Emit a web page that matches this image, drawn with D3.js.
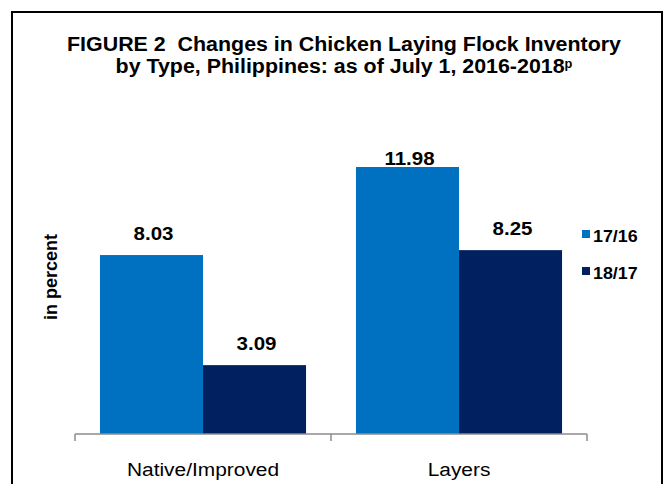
<!DOCTYPE html>
<html><head><meta charset="utf-8">
<script src="https://cdn.jsdelivr.net/npm/d3@7"></script>
<style>body{margin:0;background:#fff}svg{display:block}text{white-space:pre}</style>
</head><body>
<script>
const categories = ["Native/Improved", "Layers"];
const seriesNames = ["17/16", "18/17"];
const values1716 = [8.03, 11.98];
const values1817 = [3.09, 8.25];
const colors = ["#0070C0", "#002060"];

(function () {
const W = 670, H = 484;
const svg = d3.select("body").append("svg").attr("width", W).attr("height", H);
svg.append("rect").attr("width", W).attr("height", H).attr("fill", "#fff");
// frame
svg.append("rect").attr("x", 12).attr("y", 12).attr("width", 650).attr("height", 490)
  .attr("fill", "none").attr("stroke", "#000").attr("stroke-width", 2);

const font = "'Liberation Sans', Arial, sans-serif";
const SX = 1.08;
function stxt(parent, x, y, str, size, bold, anchor, sx) {
  return parent.append("text").attr("transform", `translate(${x},${y}) scale(${sx || SX},1)`)
    .attr("text-anchor", anchor || "middle").attr("font-family", font)
    .attr("font-weight", bold ? "bold" : "normal").attr("font-size", size)
    .attr("fill", "#000").text(str);
}

const title = svg.append("text").attr("transform", `translate(344,0) scale(1.07,1)`)
  .attr("text-anchor", "middle").attr("font-family", font)
  .attr("font-weight", "bold").attr("font-size", 20).attr("fill", "#000");
title.append("tspan").attr("x", 0).attr("y", 51).text("FIGURE 2  Changes in Chicken Laying Flock Inventory");
const l2 = title.append("tspan").attr("x", 0).attr("y", 73).text("by Type, Philippines: as of July 1, 2016-2018");
l2.append("tspan").attr("font-size", 12).attr("dy", -5).text("p");

const pl = 75, pr = 587, pt = 122, pb = 434;
const labelMinY = 165;
const x0 = d3.scaleBand().domain(categories).range([pl, pr]).paddingInner(0.195).paddingOuter(0.0975);
const x1 = d3.scaleBand().domain(seriesNames).range([0, x0.bandwidth()]);
const y = d3.scaleLinear().domain([0, 14]).range([pb, pt]);

const data = categories.map((c, i) => ({cat: c, vals: [values1716[i], values1817[i]]}));
const g = svg.append("g");
data.forEach(d => {
  d.vals.forEach((v, j) => {
    const bx = x0(d.cat) + x1(seriesNames[j]);
    g.append("rect").attr("x", bx).attr("y", y(v)).attr("width", x1.bandwidth())
      .attr("height", y(0) - y(v)).attr("fill", colors[j]);
    stxt(g, bx + x1.bandwidth() / 2 + 2, Math.max(y(v) - 15, labelMinY), v.toFixed(2), 19, true);
  });
});

// x axis: boundary ticks
const axis = svg.append("g");
axis.append("line").attr("x1", pl).attr("x2", pr).attr("y1", pb).attr("y2", pb)
  .attr("stroke", "#8c8c8c").attr("stroke-width", 1.5);
const boundaries = [pl, ...categories.slice(1).map(c => x0(c) - x0.step() * x0.paddingInner() / 2), pr];
boundaries.forEach(bx => {
  axis.append("line").attr("x1", bx).attr("x2", bx).attr("y1", pb).attr("y2", pb + 7)
    .attr("stroke", "#8c8c8c").attr("stroke-width", 1.5);
});
categories.forEach(c => {
  stxt(axis, x0(c) + x0.bandwidth() / 2, 476, c, 19, false, "middle", 1.1);
});

// y label
svg.append("text").attr("transform", "translate(57,277) rotate(-90)")
  .attr("text-anchor", "middle").attr("font-family", font).attr("font-weight", "bold")
  .attr("font-size", 18).attr("fill", "#000").text("in percent");

// legend
const leg = svg.append("g");
seriesNames.forEach((s, i) => {
  const ly = 230 + i * 37;
  leg.append("rect").attr("x", 582).attr("y", ly).attr("width", 8).attr("height", 8).attr("fill", colors[i]);
  stxt(leg, 593, ly + 11.5, s, 17, true, "start", 1.05);
});
})();
</script>
</body></html>
